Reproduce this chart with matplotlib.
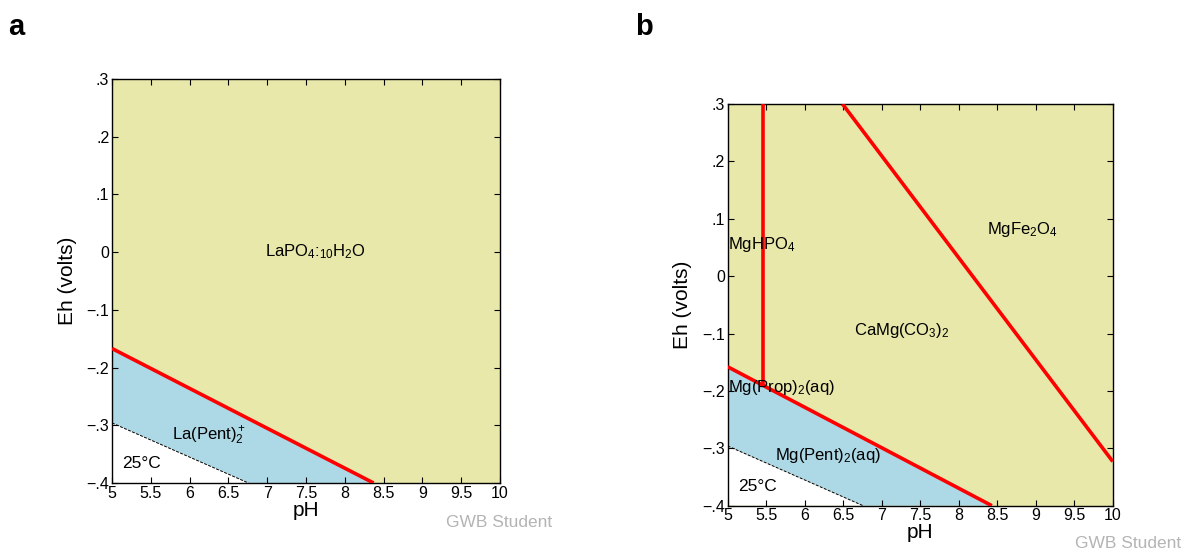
import numpy as np
import matplotlib
matplotlib.use("Agg")
import matplotlib.pyplot as plt

plt.rcParams['font.family'] = ['Liberation Sans', 'DejaVu Sans']
plt.rcParams['mathtext.fontset'] = 'custom'
plt.rcParams['mathtext.rm'] = 'Liberation Sans'
plt.rcParams['mathtext.it'] = 'Liberation Sans'
plt.rcParams['mathtext.default'] = 'regular'

# ---- data ----
ph_range = [5, 10]
eh_range = [-0.4, 0.3]
ph_ticks = [5, 5.5, 6, 6.5, 7, 7.5, 8, 8.5, 9, 9.5, 10]
ph_ticklabels = ["5", "5.5", "6", "6.5", "7", "7.5", "8", "8.5", "9", "9.5", "10"]
eh_ticks = [-0.4, -0.3, -0.2, -0.1, 0.0, 0.1, 0.2, 0.3]
eh_ticklabels = ["\u2212.4", "\u2212.3", "\u2212.2", "\u2212.1", "0", ".1", ".2", ".3"]

water_ph = [5, 6.757]
water_eh = [-0.296, -0.4]

a_bound_ph = [5, 8.37]
a_bound_eh = [-0.167, -0.4]

b_lower_ph = [5, 8.43]
b_lower_eh = [-0.158, -0.4]
b_vert_ph = [5.46, 5.46]
b_vert_eh = [0.3, -0.19]
b_diag_ph = [6.49, 10]
b_diag_eh = [0.3, -0.323]

a_labels = ["LaPO$_4$:$_{10}$H$_2$O", "La(Pent)$_2^+$"]
a_label_pos = [(7.62, 0.0), (6.25, -0.318)]
b_labels = ["MgHPO$_4$", "MgFe$_2$O$_4$", "CaMg(CO$_3$)$_2$", "Mg(Prop)$_2$(aq)", "Mg(Pent)$_2$(aq)"]
b_label_pos = [(5.0, 0.055), (8.83, 0.082), (7.26, -0.095), (5.0, -0.194), (6.3, -0.312)]

YELLOW = "#E8E8AA"
BLUE = "#ADD8E6"
RED = "#FF0000"

fig = plt.figure(figsize=(11.82, 5.52), dpi=100)


def setup(ax):
    ax.set_xlim(*ph_range)
    ax.set_ylim(*eh_range)
    ax.set_facecolor(YELLOW)
    ax.set_xticks(ph_ticks)
    ax.set_xticklabels(ph_ticklabels)
    ax.set_yticks(eh_ticks)
    ax.set_yticklabels(eh_ticklabels)
    ax.tick_params(direction="in", length=4.5, width=0.8, top=True, right=True,
                   labelsize=11.5, pad=2)
    for s in ax.spines.values():
        s.set_linewidth(1.0)
    ax.set_xlabel("pH", fontsize=15, labelpad=0)
    ax.set_ylabel("Eh (volts)", fontsize=15, labelpad=7)


def fill_regions(ax, bound_ph, bound_eh):
    blue_x = [bound_ph[0], bound_ph[1], water_ph[1], water_ph[0]]
    blue_y = [bound_eh[0], bound_eh[1], water_eh[1], water_eh[0]]
    ax.fill(blue_x, blue_y, color=BLUE, lw=0, zorder=1)
    white_x = [water_ph[0], water_ph[1], water_ph[0]]
    white_y = [water_eh[0], water_eh[1], water_eh[1]]
    ax.fill(white_x, white_y, color="white", lw=0, zorder=1)
    ax.plot(water_ph, water_eh, color="black", lw=0.7, ls=(0, (3, 1.5)), zorder=2)
    ax.text(5.13, -0.367, "25°C", fontsize=12.5, ha="left", va="center", zorder=3)


# panel a
axa = fig.add_axes([0.0948, 0.125, 0.3283, 0.7319])
setup(axa)
fill_regions(axa, a_bound_ph, a_bound_eh)
axa.plot(a_bound_ph, a_bound_eh, color=RED, lw=2.6, zorder=4, solid_capstyle="butt")
for t, (x, y) in zip(a_labels, a_label_pos):
    axa.text(x, y, t, fontsize=12, ha="center", va="center", zorder=5)
fig.text(0.007, 0.951, "a", fontsize=21, fontweight="bold", ha="left", va="center")
fig.text(0.467, 0.054, "GWB Student", fontsize=12.5, color="#B4B4B4", ha="right", va="center")

# panel b
axb = fig.add_axes([0.6157, 0.0839, 0.3257, 0.7277])
setup(axb)
fill_regions(axb, b_lower_ph, b_lower_eh)
axb.plot(b_lower_ph, b_lower_eh, color=RED, lw=2.6, zorder=4, solid_capstyle="butt")
axb.plot(b_vert_ph, b_vert_eh, color=RED, lw=2.6, zorder=4, solid_capstyle="butt")
axb.plot(b_diag_ph, b_diag_eh, color=RED, lw=2.6, zorder=4, solid_capstyle="butt")
for i, (t, (x, y)) in enumerate(zip(b_labels, b_label_pos)):
    ha = "left" if i in (0, 3) else "center"
    axb.text(x, y, t, fontsize=12, ha=ha, va="center", zorder=5)
fig.text(0.537, 0.951, "b", fontsize=21, fontweight="bold", ha="left", va="center")
fig.text(0.999, 0.015, "GWB Student", fontsize=12.5, color="#B4B4B4", ha="right", va="center")

fig.savefig("out.png", dpi=100)
